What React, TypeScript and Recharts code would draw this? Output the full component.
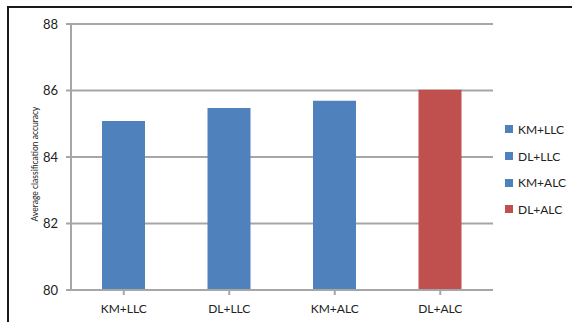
import React from 'react'
import { BarChart, Bar, XAxis, YAxis, CartesianGrid, Cell, Label } from 'recharts'

const methods = ['KM+LLC', 'DL+LLC', 'KM+ALC', 'DL+ALC']
const accuracy = [85.08, 85.47, 85.69, 86.02]
const barColors = ['#4F81BD', '#4F81BD', '#4F81BD', '#C0504D']
const yTicks = [80, 82, 84, 86, 88]

const data = methods.map((m, i) => ({ name: m, value: accuracy[i] }))

const FONT = 'Lato, "Open Sans", sans-serif'
const GRID = '#A6A6A6'

// legend lists every bar, one colour swatch per category
const LegendBox = () => (
  <div style={{ position: 'absolute', left: 505, top: 116, fontFamily: FONT, fontSize: 12, color: '#222' }}>
    {methods.map((m, i) => (
      <div key={m} style={{ display: 'flex', alignItems: 'center', height: 26.7 }}>
        <span style={{ width: 8, height: 8, background: barColors[i], marginRight: 5, display: 'inline-block' }} />
        <span>{m}</span>
      </div>
    ))}
  </div>
)

const YTitle = (props: any) => {
  const vb = props.viewBox || {}
  const cy = vb.y + vb.height / 2 + 7
  return (
    <text
      transform={`translate(35, ${cy}) rotate(-90)`}
      textAnchor="middle"
      dominantBaseline="central"
      style={{ fontFamily: FONT, fontSize: 8.5, fill: '#222' }}
    >
      Average classification accuracy
    </text>
  )
}

const App = () => {
  return (
    <div style={{ position: 'absolute', left: 0, top: 0, width: 572, height: 322, background: '#fff' }}>
      <div style={{ position: 'absolute', left: 7, top: 6, right: 0, bottom: 0, borderTop: '2px solid #1a1a1a', borderLeft: '2px solid #1a1a1a' }} />
      <div style={{ position: 'absolute', left: 0, top: 0 }}>
        <BarChart width={572} height={322} data={data} margin={{ top: 24, right: 79, bottom: 0, left: 0 }}>
          <CartesianGrid vertical={false} stroke={GRID} strokeWidth={2} />
          <XAxis
            dataKey="name"
            height={32}
            tickLine={{ stroke: GRID, strokeWidth: 2 }}
            axisLine={{ stroke: GRID, strokeWidth: 2 }}
            tickSize={5}
            tickMargin={9}
            tick={{ fontFamily: FONT, fontSize: 12, fill: '#222' }}
            interval={0}
          />
          <YAxis
            width={71}
            domain={[80, 88]}
            ticks={yTicks}
            tickLine={{ stroke: GRID, strokeWidth: 2 }}
            axisLine={{ stroke: GRID, strokeWidth: 2 }}
            tickSize={5}
            tickMargin={8}
            tick={{ fontFamily: FONT, fontSize: 13, fill: '#222' }}
            allowDataOverflow
          >
            <Label content={YTitle} />
          </YAxis>
          <Bar dataKey="value" barSize={43} isAnimationActive={false}>
            {data.map((d, i) => (
              <Cell key={d.name} fill={barColors[i]} />
            ))}
          </Bar>
        </BarChart>
      </div>
      <LegendBox />
    </div>
  )
}

export default App
